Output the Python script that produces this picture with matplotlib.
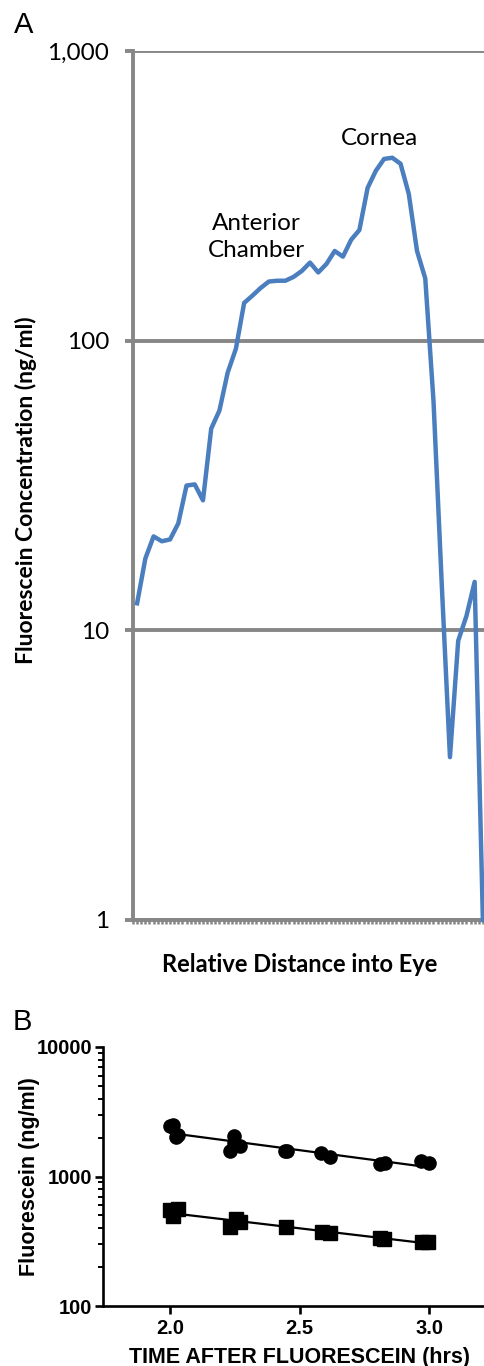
import numpy as np
import matplotlib
matplotlib.use("Agg")
import matplotlib.pyplot as plt
from matplotlib.ticker import FixedLocator, NullFormatter, LogLocator

# Panel A: fluorescein profile across the eye
conc_a = [12.4, 17.7, 21.1, 20.3, 20.6, 23.4, 31.6, 31.9, 28.1, 49.7,
          57.4, 77.6, 93.8, 135, 143, 152, 160, 161, 161, 166,
          174, 186, 172, 184, 204, 195, 223, 241, 337, 386,
          424, 428, 408, 321, 204, 164, 62, 14.5, 3.65, 9.2,
          11.2, 14.7, 1.0]
yticks_a = [1, 10, 100, 1000]
ylabels_a = ["1", "10", "100", "1,000"]

# Panel B: decay after fluorescein
t_circ = [2.0, 2.01, 2.02, 2.03, 2.229, 2.245, 2.247, 2.268, 2.444, 2.45,
          2.582, 2.618, 2.811, 2.83, 2.968, 2.998]
c_circ = [2450, 2500, 2030, 2100, 1575, 1820, 2055, 1720, 1585, 1570,
          1515, 1422, 1247, 1280, 1325, 1270]
t_sq = [2.0, 2.01, 2.03, 2.229, 2.255, 2.268, 2.447, 2.585, 2.618, 2.811,
        2.826, 2.971, 2.995]
c_sq = [551, 496, 560, 407, 470, 448, 409, 375, 368, 335, 332, 312, 312]
fit_range = [2.0, 3.0]

grey = "#878787"
blue = "#4a7ebf"

fig = plt.figure(figsize=(4.85, 13.66), dpi=100)

# ---------- A ----------
ax = fig.add_axes([133/485, 1-920/1366, 354/485, 869/1366])
n = len(conc_a)
ax.plot(range(n), conc_a, color=blue, lw=3.2, solid_joinstyle="round", zorder=3, clip_on=False)
ax.set_yscale("log")
ax.set_ylim(1, 1000)
ax.set_xlim(-0.5, n - 0.5)
ax.yaxis.set_major_locator(FixedLocator(yticks_a))
ax.yaxis.set_minor_locator(FixedLocator([]))
ax.set_yticklabels(ylabels_a)
ax.yaxis.grid(True, color=grey, lw=2.8)
ax.set_axisbelow(True)
for s in ["top", "right"]:
    ax.spines[s].set_visible(False)
for s in ["left", "bottom"]:
    ax.spines[s].set_color(grey)
    ax.spines[s].set_linewidth(2.8)
ax.tick_params(axis="y", which="major", length=6, width=2.8, color=grey,
               pad=11, labelsize=17.5, labelfontfamily="Lato")
ax.xaxis.set_major_locator(FixedLocator(np.arange(-0.5, n, 0.5)))
ax.xaxis.set_major_formatter(NullFormatter())
ax.tick_params(axis="x", length=3.2, width=1.8, color=grey, direction="out")

ax.set_ylabel("Fluorescein Concentration (ng/ml)", fontsize=16.5,
              fontweight="bold", family="Lato")
ax.yaxis.set_label_coords(-0.272, 0.495)
ax.set_xlabel("Relative Distance into Eye", fontsize=17,
              fontweight="bold", family="Lato")
ax.xaxis.set_label_coords(0.472, -0.038)

ax.text(29.5, 497, "Cornea", ha="center", va="center", fontsize=17.5, family="Lato")
ax.text(14.5, 228, "Anterior\nChamber", ha="center", va="center", fontsize=17.5,
        family="Lato", linespacing=1.35)

fig.text(14/485, 1-33/1366, "A", fontsize=21, family="Liberation Sans", va="baseline")

# ---------- B ----------
bx = fig.add_axes([103/485, 1-1306/1366, 391/485, 259/1366])
bx.set_yscale("log")
bx.set_ylim(100, 10000)
bx.set_xlim(1.74, 3.25)
for t, c, m in [(t_circ, c_circ, "o"), (t_sq, c_sq, "s")]:
    bx.plot(t, c, ls="none", marker=m, color="black", ms=9.5, clip_on=False)
    k, b = np.polyfit(t, np.log10(c), 1)
    xx = np.array(fit_range)
    bx.plot(xx, 10 ** (k * xx + b), color="black", lw=1.6)

bx.spines["top"].set_visible(False)
bx.spines["right"].set_visible(False)
for s in ["left", "bottom"]:
    bx.spines[s].set_linewidth(1.9)
bx.yaxis.set_major_locator(FixedLocator([100, 1000, 10000]))
bx.yaxis.set_minor_locator(LogLocator(base=10, subs=np.arange(2, 10)))
bx.yaxis.set_minor_formatter(NullFormatter())
bx.set_yticklabels(["100", "1000", "10000"])
bx.set_xticks([2.0, 2.5, 3.0])
bx.set_xticklabels(["2.0", "2.5", "3.0"])
bx.tick_params(axis="both", which="major", length=6, width=1.9, labelsize=14.5, pad=2)
bx.tick_params(axis="x", which="major", pad=3)
bx.tick_params(axis="y", which="minor", length=3.5, width=1.4)
for lab in bx.get_xticklabels() + bx.get_yticklabels():
    lab.set_family("Liberation Sans")
    lab.set_fontweight("bold")
bx.set_xlabel("TIME AFTER FLUORESCEIN (hrs)", fontsize=15.5, fontweight="bold",
              family="Liberation Sans")
bx.xaxis.set_label_coords((300-103)/391, -0.16)
bx.set_ylabel("Fluorescein (ng/ml)", fontsize=15.5, fontweight="bold",
              family="Liberation Sans")
bx.yaxis.set_label_coords(-0.16, 0.5)

fig.text(13/485, 1-1030/1366, "B", fontsize=21, family="Liberation Sans", va="baseline")

fig.savefig("out.png", dpi=100)
